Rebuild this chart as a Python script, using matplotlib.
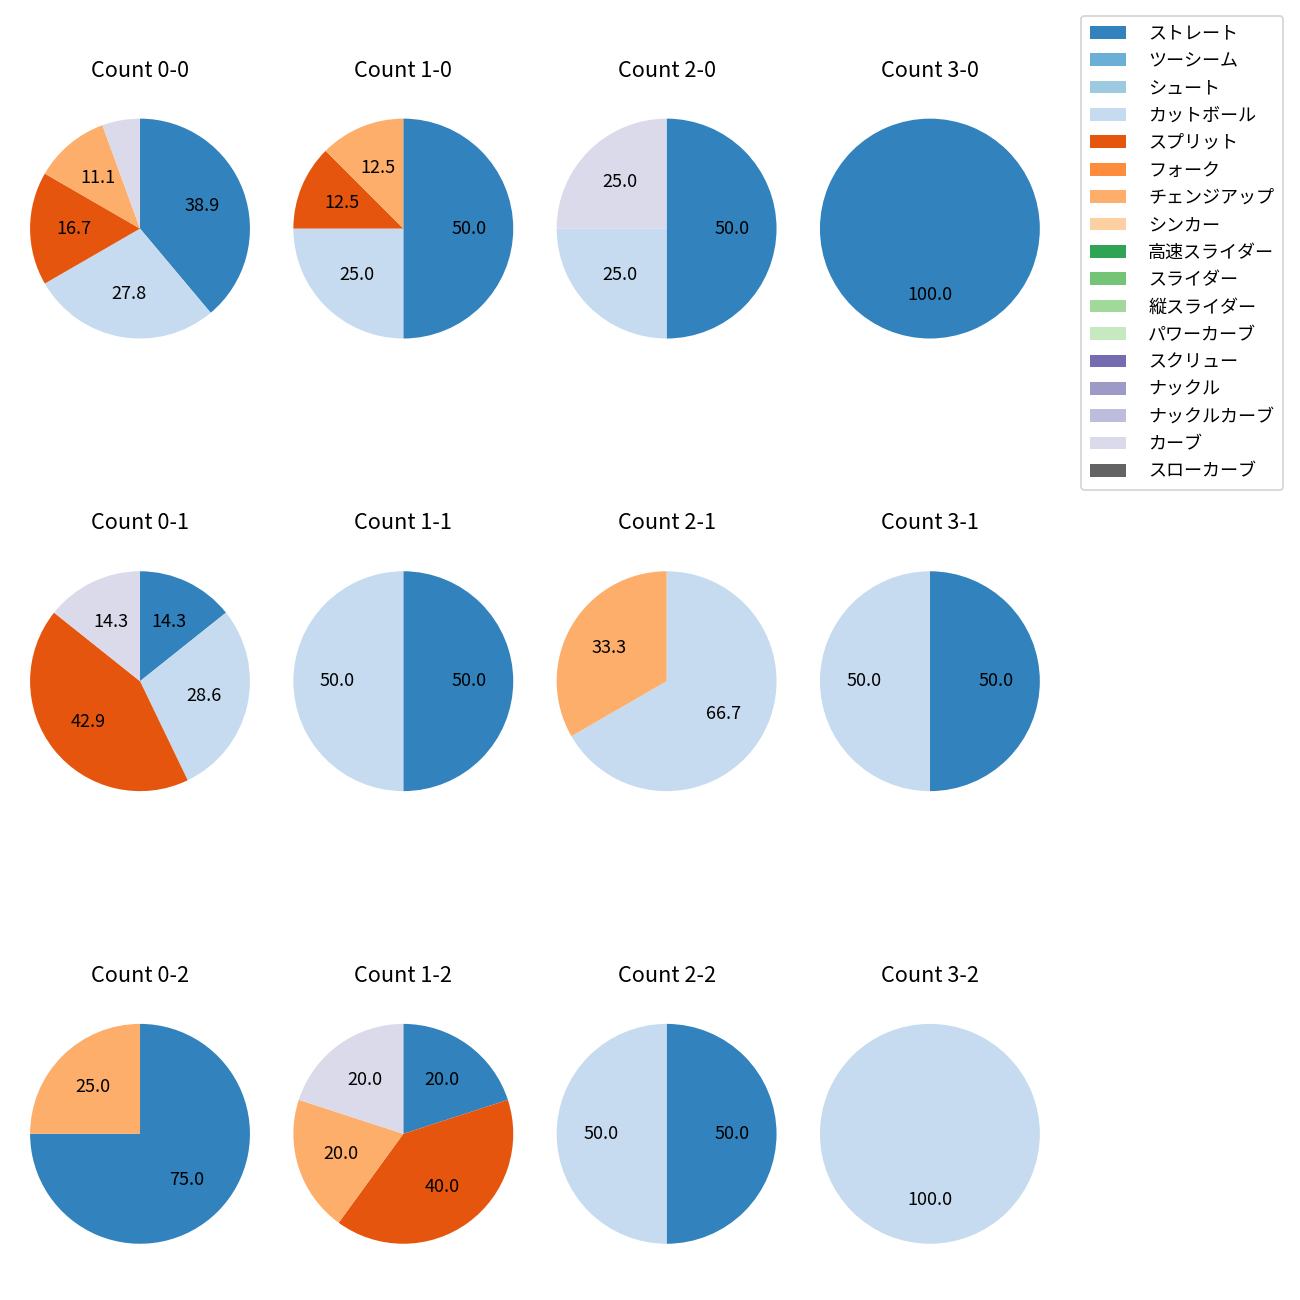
import numpy as np
import matplotlib.pyplot as plt
from matplotlib.patches import Patch

plt.rcParams['font.family'] = ['Noto Sans CJK JP', 'DejaVu Sans']

# 球種（凡例の順）
pitch_types = ['ストレート', 'ツーシーム', 'シュート', 'カットボール', 'スプリット', 'フォーク',
               'チェンジアップ', 'シンカー', '高速スライダー', 'スライダー', '縦スライダー',
               'パワーカーブ', 'スクリュー', 'ナックル', 'ナックルカーブ', 'カーブ', 'スローカーブ']

# カウント別の投球数（pitch_types と同じ順）
count_labels = ['0-0', '1-0', '2-0', '3-0',
                '0-1', '1-1', '2-1', '3-1',
                '0-2', '1-2', '2-2', '3-2']
c00 = [7, 0, 0, 5, 3, 0, 2, 0, 0, 0, 0, 0, 0, 0, 0, 1, 0]
c10 = [4, 0, 0, 2, 1, 0, 1, 0, 0, 0, 0, 0, 0, 0, 0, 0, 0]
c20 = [2, 0, 0, 1, 0, 0, 0, 0, 0, 0, 0, 0, 0, 0, 0, 1, 0]
c30 = [1, 0, 0, 0, 0, 0, 0, 0, 0, 0, 0, 0, 0, 0, 0, 0, 0]
c01 = [1, 0, 0, 2, 3, 0, 0, 0, 0, 0, 0, 0, 0, 0, 0, 1, 0]
c11 = [1, 0, 0, 1, 0, 0, 0, 0, 0, 0, 0, 0, 0, 0, 0, 0, 0]
c21 = [0, 0, 0, 2, 0, 0, 1, 0, 0, 0, 0, 0, 0, 0, 0, 0, 0]
c31 = [1, 0, 0, 1, 0, 0, 0, 0, 0, 0, 0, 0, 0, 0, 0, 0, 0]
c02 = [3, 0, 0, 0, 0, 0, 1, 0, 0, 0, 0, 0, 0, 0, 0, 0, 0]
c12 = [1, 0, 0, 0, 2, 0, 1, 0, 0, 0, 0, 0, 0, 0, 0, 1, 0]
c22 = [1, 0, 0, 1, 0, 0, 0, 0, 0, 0, 0, 0, 0, 0, 0, 0, 0]
c32 = [0, 0, 0, 1, 0, 0, 0, 0, 0, 0, 0, 0, 0, 0, 0, 0, 0]
counts = [c00, c10, c20, c30, c01, c11, c21, c31, c02, c12, c22, c32]

colors = plt.get_cmap('tab20c').colors[:len(pitch_types)]


def fmt(pct):
    return f'{pct:.1f}' if pct >= 10 else ''


fig, axes = plt.subplots(3, 4, figsize=(10, 10))
fig.subplots_adjust(left=0.002, right=0.821, top=0.93, bottom=0.022,
                    wspace=-0.042, hspace=0.645)

for ax, label, vals in zip(axes.flat, count_labels, counts):
    vals = np.array(vals)
    mask = vals > 0
    ax.pie(vals[mask], colors=[c for c, m in zip(colors, mask) if m],
           startangle=90, counterclock=False, autopct=fmt)
    ax.set_title(f'Count {label}', pad=8)

handles = [Patch(facecolor=c, label=p) for c, p in zip(colors, pitch_types)]
fig.legend(handles=handles, loc='upper right', bbox_to_anchor=(0.994, 0.995),
           labelspacing=0.52, handletextpad=1.2, borderpad=0.5)

fig.savefig('out.png', dpi=130)
